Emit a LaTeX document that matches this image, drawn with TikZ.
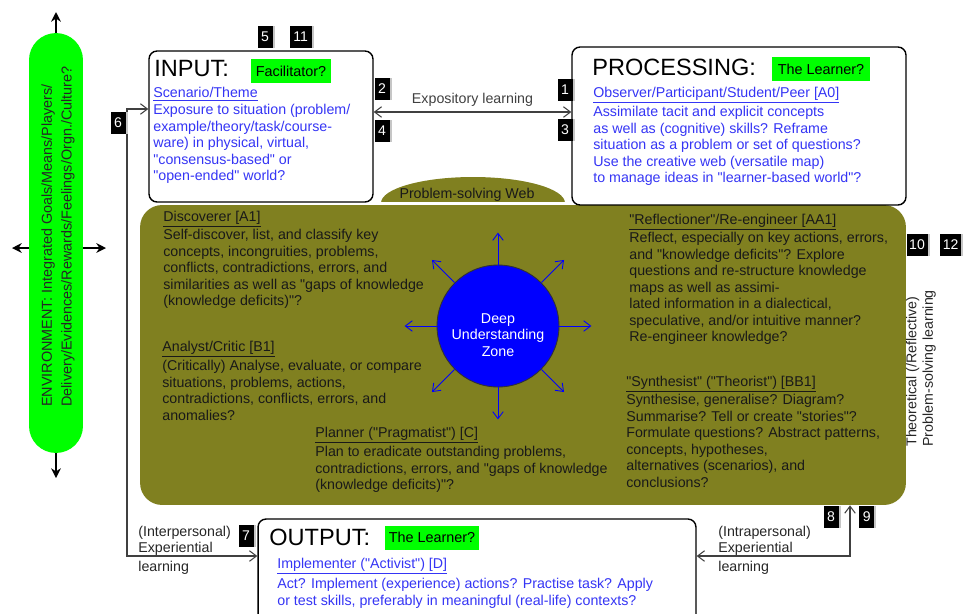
\documentclass[tikz,border=0pt]{standalone}
\usepackage{fontspec}
\setmainfont{Liberation Sans}[Ligatures=TeXOff]
\usepackage{tikz}
\usetikzlibrary{positioning, calc, arrows.meta, shadows}
\usepackage{xcolor}
\definecolor{cweb}{HTML}{808020}
\definecolor{clime}{HTML}{00FF00}
\definecolor{cblue}{HTML}{3535F5}
\definecolor{czone}{HTML}{0000FF}
\definecolor{cline}{HTML}{404040}
\newcommand{\bodysize}{\fontsize{8.1}{9.4}\selectfont}
\newcommand{\rolehead}[1]{\strut\underline{#1}}

\begin{document}
\begin{tikzpicture}[
	x=0.02cm, y=-0.02cm,
	% Style for the three main boxes
	mainbox/.style={
		draw,
		rounded corners=0.16cm,
		line width=0.8pt,
		fill=white,
		inner sep=0pt
	},
	% Style for the green role tags
	tag/.style={
		fill=clime,
		inner sep=0pt,
		minimum height=0.48cm,
		font=\fontsize{8.2}{9}\selectfont
	},
	% Style for the small black number boxes
	numbox/.style={
		fill=black,
		text=white,
		inner sep=0pt,
		minimum width=0.3cm,
		minimum height=0.45cm,
		font=\fontsize{8}{9}\selectfont,
		general shadow={fill=gray!45, shadow xshift=1.2pt}
	},
	% Style for the big box titles
	title/.style={
		anchor=base west,
		inner sep=0pt,
		font=\fontsize{13.4}{16}\selectfont
	},
	% Style for the text blocks
	bluetext/.style={
		anchor=north west,
		inner sep=0pt,
		align=left,
		text=cblue,
		font=\bodysize
	},
	webtext/.style={
		anchor=north west,
		inner sep=0pt,
		align=left,
		text=black!90,
		font=\bodysize
	},
	% Style for the connectors
	link/.style={
		draw=cline,
		line width=0.6pt,
		{Straight Barb[length=4pt,width=6pt]}-{Straight Barb[length=4pt,width=6pt]}
	},
	ray/.style={
		draw=czone,
		line width=0.5pt,
		-{Straight Barb[length=4pt,width=6pt]}
	},
	envarrow/.style={
		line width=1.3pt,
		-{Stealth[length=5.5pt,width=5.5pt]}
	}
	]
	\useasboundingbox (0,0) rectangle (963,613);
	\clip (0,0) rectangle (963,613);
	
	% --- Environment ---
	\node[fill=clime, rounded corners=0.54cm, minimum width=1.08cm, minimum height=8.4cm] (env) at (56,243) {};
	\node[rotate=90, anchor=west, inner sep=0pt, align=left, text=black!85,
	font=\fontsize{8.2}{11.3}\selectfont] (envtext) at (58,407)
	{ENVIRONMENT: Integrated Goals/Means/Players/\\Delivery/Evidences/Rewards/Feelings/Orgn./Culture?};
	\coordinate (envup) at (56,12);
	\coordinate (envdown) at (56,478);
	\coordinate (envleft) at (12,248);
	\coordinate (envright) at (106,248);
	\draw[envarrow] (env.north) -- (envup);
	\draw[envarrow] (env.south) -- (envdown);
	\draw[envarrow] (env.west |- envleft) -- (envleft);
	\draw[envarrow] (env.east |- envright) -- (envright);
	
	% --- Problem-solving web ---
	\begin{scope}
		\clip (370,170) rectangle (580,201);
		\fill[cweb] (473,203) ellipse [x radius=1.84cm, y radius=0.52cm];
	\end{scope}
	\node[anchor=base, font=\bodysize, text=black!90] (tabtext) at (467,198) {Problem-solving Web};
	\node[fill=cweb, rounded corners=0.44cm, minimum width=15.32cm, minimum height=6cm, inner sep=0pt] (web) at (523,355) {};
	
	\node[webtext] (discoverer) at (163,209.4) {\rolehead{Discoverer [A1]}\\
		Self-discover, list, and classify key\\
		concepts, incongruities, problems,\\
		conflicts, contradictions, errors, and\\
		similarities as well as "gaps of knowledge\\
		(knowledge deficits)"?};
	\node[webtext] (analyst) at (162,339.4) {\rolehead{Analyst/Critic [B1]}\\[0.6pt]
		(Critically) Analyse, evaluate, or compare\\
		situations, problems, actions,\\
		contradictions, conflicts, errors, and\\
		anomalies?};
	\node[webtext] (planner) at (315,425.4) {\rolehead{Planner ("Pragmatist") [C]}\\[0.6pt]
		Plan to eradicate outstanding problems,\\
		contradictions, errors, and "gaps of knowledge\\
		(knowledge deficits)"?};
	\node[webtext] (reflect) at (629,212.4) {\rolehead{"Reflectioner"/Re-engineer [AA1]}\\
		Reflect, especially on key actions, errors,\\
		and "knowledge deficits"? Explore\\
		questions and re-structure knowledge\\
		maps as well as assimi-\\
		lated information in a dialectical,\\
		speculative, and/or intuitive manner?\\
		Re-engineer knowledge?};
	\node[webtext] (synth) at (626,374.4) {\rolehead{"Synthesist" ("Theorist") [BB1]}\\
		Synthesise, generalise? Diagram?\\
		Summarise? Tell or create "stories"?\\
		Formulate questions? Abstract patterns,\\
		concepts, hypotheses,\\
		alternatives (scenarios), and\\
		conclusions?};
	
	% Deep understanding zone
	\node[circle, fill=czone, draw=black!80, line width=0.5pt, minimum size=2.44cm, inner sep=0pt] (zone) at (498,326) {};
	\node[align=center, text=white, font=\bodysize] (zonetext) at (498,335) {Deep\\Understanding\\Zone};
	\foreach \a in {0,45,...,315} {
		\coordinate (tip\a) at ($(zone.center)!1.52!(zone.\a)$);
		\draw[ray] (zone.\a) -- (tip\a);
	}
	
	\node[rotate=90, anchor=west, inner sep=0pt, align=left, font=\bodysize, text=black!85] (theory) at (921,447)
	{Theoretical (/Reflective)\\Problem-solving learning};
	
	% --- Input ---
	\node[mainbox, minimum width=4.48cm, minimum height=3.02cm] (input) at (261,126.5) {};
	\node[title] (inputtitle) at (154,76) {INPUT:};
	\node[tag, minimum width=1.6cm] (facil) at (291,71) {Facilitator?};
	\node[bluetext] (inputtext) at (153,85.4) {\rolehead{Scenario/Theme}\\[0.6pt]
		Exposure to situation (problem/\\
		example/theory/task/course-\\
		ware) in physical, virtual,\\
		"consensus-based" or\\
		"open-ended" world?};
	
	% --- Processing ---
	\node[mainbox, minimum width=6.68cm, minimum height=3.16cm] (processing) at (739,126) {};
	\node[title] (proctitle) at (592,75) {PROCESSING:};
	\node[tag, minimum width=1.96cm] (learner1) at (821,69) {The Learner?};
	\node[bluetext] (proctext) at (593,85.4) {\rolehead{Observer/Participant/Student/Peer [A0]}\\[0.6pt]
		Assimilate tacit and explicit concepts\\
		as well as (cognitive) skills? Reframe\\
		situation as a problem or set of questions?\\
		Use the creative web (versatile map)\\
		to manage ideas in "learner-based world"?};
	
	% --- Output ---
	\node[mainbox, minimum width=8.76cm, minimum height=2.42cm] (output) at (477,579.5) {};
	\node[title] (outtitle) at (269,545) {OUTPUT:};
	\node[tag, minimum width=1.88cm] (learner2) at (432,537.5) {The Learner?};
	\node[bluetext] (outtext) at (277,556.4) {\rolehead{Implementer ("Activist") [D]}\\[1pt]
		Act? Implement (experience) actions? Practise task? Apply\\
		or test skills, preferably in meaningful (real-life) contexts?};
	
	% --- Connectors ---
	\coordinate (expo) at (0,112);
	\draw[link] (input.east |- expo) -- node[midway, above=-0.5pt, font=\bodysize, text=cline] (expolabel) {Expository learning} (processing.west |- expo);
	
	\coordinate (lcorner) at (127,109);
	\coordinate (lbend) at (127,556);
	\draw[link] (input.west |- lcorner) -- (lcorner) -- (lbend) -- (output.west |- lbend);
	\node[anchor=north west, inner sep=0pt, align=left, font=\bodysize, text=black!85] (inter) at (138,524.4)
	{\strut(Interpersonal)\\Experiential\\[1.4pt]learning};
	
	\coordinate (rbend) at (850,556);
	\draw[link] (output.east |- rbend) -- (rbend) -- (rbend |- web.south);
	\node[anchor=north west, inner sep=0pt, align=left, font=\bodysize, text=black!85] (intra) at (718,524.4)
	{\strut(Intrapersonal)\\Experiential\\[1.4pt]learning};
	
	% --- Number boxes ---
	\node[numbox] (n5) at (265,37) {5};
	\node[numbox, minimum width=0.44cm, right=0.33cm of n5] (n11) {11};
	\node[numbox] (n2) at (382,89) {2};
	\node[numbox] (n4) at (382,131) {4};
	\node[numbox] (n6) at (118,123) {6};
	\node[numbox] (n1) at (565,90) {1};
	\node[numbox] (n3) at (565,130) {3};
	\node[numbox, minimum width=0.42cm] (n10) at (917,245) {10};
	\node[numbox, minimum width=0.42cm, right=0.24cm of n10] (n12) {12};
	\node[numbox] (n7) at (246,536) {7};
	\node[numbox] (n8) at (831,517) {8};
	\node[numbox, right=0.4cm of n8] (n9) {9};
	
\end{tikzpicture}
\end{document}
